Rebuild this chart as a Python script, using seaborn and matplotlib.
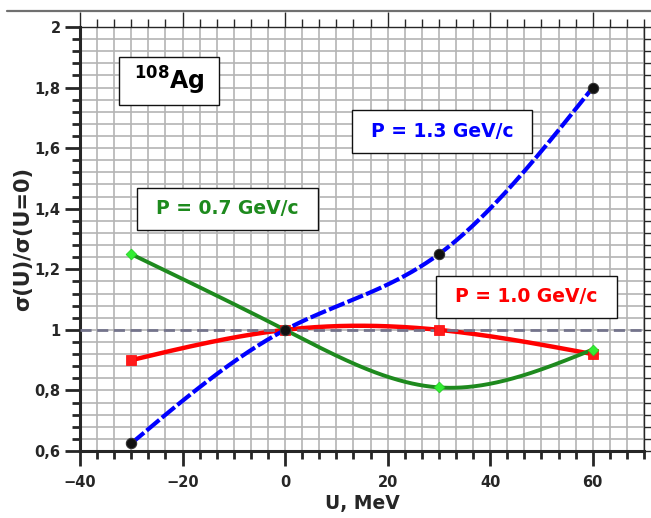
import numpy as np
import matplotlib
matplotlib.use("Agg")
import matplotlib.pyplot as plt
import matplotlib.patches as mpatches
from matplotlib.lines import Line2D
from matplotlib.ticker import MultipleLocator, FuncFormatter
import seaborn as sns

# Cross-section ratio sigma(U)/sigma(U=0) for 108Ag at three beam momenta
u_mev = [-30, 0, 30, 60]
ratio_p07 = [1.25, 1.00, 0.81, 0.935]
ratio_p10 = [0.90, 1.00, 1.00, 0.92]
ratio_p13 = [0.625, 1.00, 1.25, 1.80]

labels = ["P = 0.7 GeV/c", "P = 1.0 GeV/c", "P = 1.3 GeV/c"]

sns.set_style("ticks")
plt.rcParams["font.family"] = ["DejaVu Sans"]
plt.rcParams["mathtext.fontset"] = "dejavusans"

fig = plt.figure(figsize=(6.51, 5.18), dpi=100)
ax = fig.add_axes([80 / 651, 67 / 518, 564 / 651, 424 / 518])

ax.set_xlim(-40, 70)
ax.set_ylim(0.6, 2.0)

# grid on every minor division
ax.xaxis.set_major_locator(MultipleLocator(20))
ax.xaxis.set_minor_locator(MultipleLocator(10 / 3))
ax.yaxis.set_major_locator(MultipleLocator(0.2))
ax.yaxis.set_minor_locator(MultipleLocator(0.04))
ax.grid(which="both", color="#b4b4b4", linewidth=1.2, zorder=0)
ax.set_axisbelow(True)


def fmt_y(v, pos):
    s = f"{v:.1f}"
    if s.endswith(".0"):
        s = s[:-2]
    return s.replace(".", ",")


def fmt_x(v, pos):
    return f"{int(round(v))}".replace("-", "\u2212")


ax.yaxis.set_major_formatter(FuncFormatter(fmt_y))
ax.xaxis.set_major_formatter(FuncFormatter(fmt_x))

ax.tick_params(axis="both", which="major", labelsize=10.5, direction="out",
               length=11, width=2, pad=3)
ax.tick_params(axis="both", which="minor", direction="out", length=6, width=2)
ax.tick_params(axis="x", which="major", pad=6)
ax.tick_params(top=True, right=True, which="both")
ax.tick_params(axis="x", which="major", top=True, labeltop=False)
for side in ["bottom", "left"]:
    ax.spines[side].set_linewidth(2.2)
for side in ["top", "right"]:
    ax.spines[side].set_linewidth(1.0)
for t in ax.xaxis.get_major_ticks() + ax.xaxis.get_minor_ticks():
    t.tick2line.set_markeredgewidth(1.0)
for t in ax.yaxis.get_major_ticks() + ax.yaxis.get_minor_ticks():
    t.tick2line.set_markeredgewidth(1.0)
for lab in ax.get_xticklabels() + ax.get_yticklabels():
    lab.set_fontweight("bold")

# natural cubic spline through the measured points of each series
u_fine = np.linspace(u_mev[0], u_mev[-1], 300)


def smooth(yvals):
    x = np.asarray(u_mev, float)
    y = np.asarray(yvals, float)
    n = len(x)
    h = np.diff(x)
    A = np.zeros((n, n))
    rhs = np.zeros(n)
    A[0, 0] = A[-1, -1] = 1.0
    for i in range(1, n - 1):
        A[i, i - 1] = h[i - 1]
        A[i, i] = 2 * (h[i - 1] + h[i])
        A[i, i + 1] = h[i]
        rhs[i] = 6 * ((y[i + 1] - y[i]) / h[i] - (y[i] - y[i - 1]) / h[i - 1])
    M = np.linalg.solve(A, rhs)
    idx = np.clip(np.searchsorted(x, u_fine) - 1, 0, n - 2)
    x0, x1 = x[idx], x[idx + 1]
    hh = x1 - x0
    t0, t1 = x1 - u_fine, u_fine - x0
    return (M[idx] * t0 ** 3 / (6 * hh) + M[idx + 1] * t1 ** 3 / (6 * hh)
            + (y[idx] / hh - M[idx] * hh / 6) * t0
            + (y[idx + 1] / hh - M[idx + 1] * hh / 6) * t1)


sns.lineplot(x=u_fine, y=smooth(ratio_p10), ax=ax, color="#ff0000",
             linewidth=3.2, zorder=3, solid_capstyle="butt")
sns.lineplot(x=u_fine, y=smooth(ratio_p07), ax=ax, color="#1e8a1e",
             linewidth=2.8, zorder=4)
ax.axhline(1.0, color="#74748c", linewidth=2.0, linestyle=(0, (4, 2)), zorder=5)
sns.lineplot(x=u_fine, y=smooth(ratio_p13), ax=ax, color="#0000ff",
             linewidth=3.0, linestyle=(0, (4, 0.8)), zorder=6)

sns.scatterplot(x=u_mev, y=ratio_p10, ax=ax, marker="s", s=55, color="#ff1a1a",
                edgecolor="#ff0000", linewidth=0.5, zorder=7)
sns.scatterplot(x=u_mev, y=ratio_p07, ax=ax, marker="D", s=30, color="#33ee33",
                edgecolor="#22cc22", linewidth=0.5, zorder=8)
sns.scatterplot(x=u_mev, y=ratio_p13, ax=ax, marker="o", s=55, color="#111111",
                edgecolor="#333333", linewidth=0.8, zorder=9)

ax.set_xlabel("U, MeV", fontsize=13.5, fontweight="bold", labelpad=3)
ax.set_ylabel("\u03c3(U)/\u03c3(U=0)", fontsize=15, fontweight="bold", labelpad=1)


def label_box(x0, x1, y0, y1, text, color, size):
    ax.add_patch(mpatches.Rectangle((x0, y0), x1 - x0, y1 - y0, facecolor="white",
                                    edgecolor="#111111", linewidth=1.0, zorder=10))
    ax.text((x0 + x1) / 2, (y0 + y1) / 2, text, color=color, fontsize=size,
            fontweight="bold", ha="center", va="center", zorder=11)


label_box(-32.4, -12.9, 1.742, 1.901, r"$\mathbf{^{108}Ag}$", "black", 17)
label_box(-28.9, 6.4, 1.330, 1.469, labels[0], "#1e8a1e", 13.5)
label_box(29.4, 64.7, 1.039, 1.178, labels[1], "#ff0000", 13.5)
label_box(13.05, 48.2, 1.584, 1.726, labels[2], "#0000ff", 13.5)

# thin rule along the top of the figure
fig.add_artist(Line2D([7 / 651, 1.0], [1 - 11 / 518, 1 - 11 / 518],
                      color="#707070", linewidth=1.6))

fig.savefig("out.png", dpi=100)
